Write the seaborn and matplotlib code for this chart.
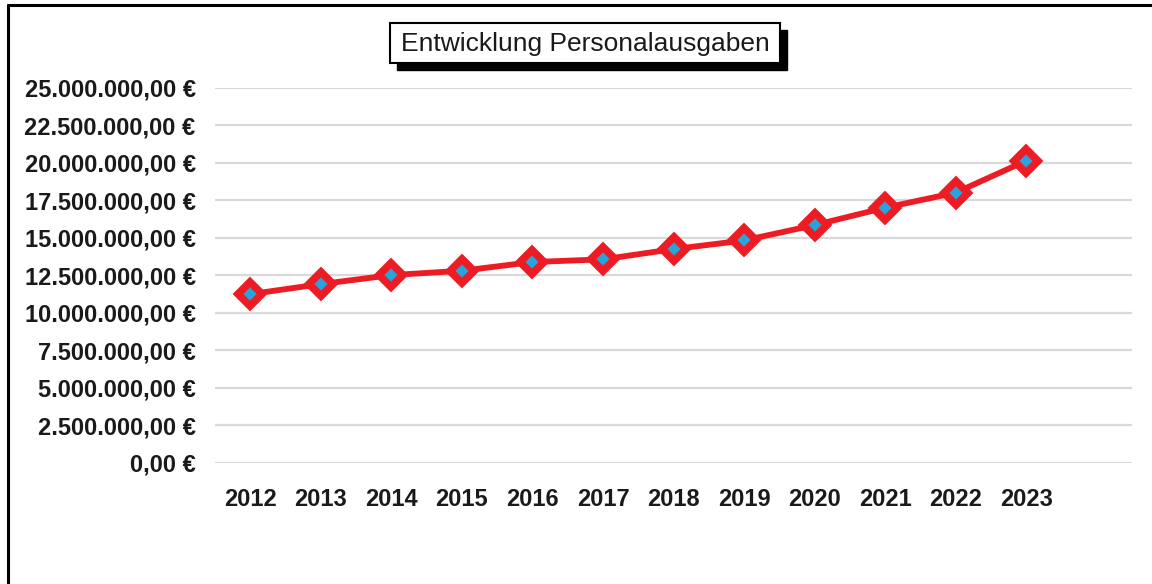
import pandas as pd
import matplotlib.pyplot as plt
import seaborn as sns
from matplotlib.ticker import FuncFormatter, MultipleLocator
from matplotlib.patches import Rectangle
from matplotlib.lines import Line2D

years = ['2012', '2013', '2014', '2015', '2016', '2017',
         '2018', '2019', '2020', '2021', '2022', '2023']
ausgaben = [11230000, 11900000, 12500000, 12790000, 13370000, 13550000,
            14230000, 14810000, 15830000, 16990000, 17990000, 20120000]

df = pd.DataFrame({'Jahr': years, 'Personalausgaben': ausgaben})

sns.set_style('white')
plt.rcParams['font.family'] = ['Liberation Sans', 'DejaVu Sans']


def euro(v, pos):
    s = f'{v:,.2f}'.replace(',', 'X').replace('.', ',').replace('X', '.')
    return s + ' €'


fig = plt.figure(figsize=(11.52, 5.84), dpi=100)
ax = fig.add_axes([215 / 1152, 1 - 462.7 / 584, (1132 - 215) / 1152, (462.7 - 87.5) / 584])

sns.lineplot(data=df, x='Jahr', y='Personalausgaben', ax=ax, color='#ED1C24',
             linewidth=4.2, marker='D', markersize=12, markerfacecolor='#29A3DB',
             markeredgecolor='#ED1C24', markeredgewidth=5.5, zorder=3)

ax.set_ylim(0, 25000000)
ax.set_xlim(-0.5, 12.5)
ax.yaxis.set_major_locator(MultipleLocator(2500000))
ax.yaxis.set_major_formatter(FuncFormatter(euro))
ax.grid(axis='y', color='#D9D9D9', linewidth=1.6)
ax.set_axisbelow(True)
for sp in ax.spines.values():
    sp.set_visible(False)
ax.tick_params(axis='both', length=0, labelsize=17)
ax.tick_params(axis='y', pad=14)
ax.tick_params(axis='x', pad=18)
for lab in ax.get_xticklabels() + ax.get_yticklabels():
    lab.set_fontweight('bold')
    lab.set_color('#1a1a1a')
ax.set_xlabel('')
ax.set_ylabel('')

# title box with shadow
fig.add_artist(Rectangle((397 / 1152, 1 - 70 / 584), 390 / 1152, 40 / 584,
                         transform=fig.transFigure, facecolor='black', edgecolor='black'))
fig.add_artist(Rectangle((390 / 1152, 1 - 63 / 584), 390 / 1152, 40 / 584,
                         transform=fig.transFigure, facecolor='white', edgecolor='black',
                         linewidth=1.5))
fig.text(585 / 1152, 1 - 44 / 584, 'Entwicklung Personalausgaben', ha='center', va='center',
         fontsize=19, color='#1a1a1a')

# outer border (top and left)
fig.add_artist(Line2D([8 / 1152, 1], [1 - 5 / 584, 1 - 5 / 584], transform=fig.transFigure,
                      color='black', linewidth=2.2))
fig.add_artist(Line2D([8 / 1152, 8 / 1152], [0, 1 - 5 / 584], transform=fig.transFigure,
                      color='black', linewidth=2.2))

fig.savefig('out.png', dpi=100)
